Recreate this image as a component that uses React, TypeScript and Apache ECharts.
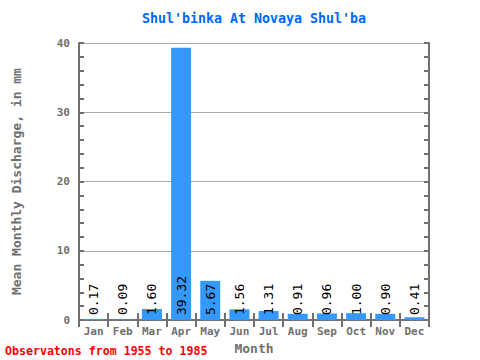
import React, { useEffect, useRef } from "react";
import * as echarts from "echarts";

const months = ["Jan", "Feb", "Mar", "Apr", "May", "Jun", "Jul", "Aug", "Sep", "Oct", "Nov", "Dec"];
const discharge = [0.17, 0.09, 1.6, 39.32, 5.67, 1.56, 1.31, 0.91, 0.96, 1.0, 0.9, 0.41];
const titleText = "Shul'binka At Novaya Shul'ba";
const yName = "Mean Monthly Discharge, in mm";
const xName = "Month";
const note = "Observatons from 1955 to 1985";

const FONT = "'DejaVu Sans Mono', monospace";
const AXIS = "#707070";

export default function App() {
  const ref = useRef<HTMLDivElement>(null);
  useEffect(() => {
    const chart = echarts.init(ref.current!, null, { renderer: "svg" });
    const yCommon = {
      type: "value" as const,
      min: 0,
      max: 40,
      interval: 10,
      axisLine: { show: true, lineStyle: { color: AXIS, width: 2 } },
      axisTick: { show: true, inside: true, length: 5, lineStyle: { color: AXIS, width: 2 } },
      minorTick: { show: true, splitNumber: 5, length: 5, lineStyle: { color: AXIS, width: 2 } },
    };
    const xCommon = {
      type: "category" as const,
      data: months,
      axisLine: { show: true, lineStyle: { color: AXIS, width: 2 } },
      axisTick: { show: true, inside: true, interval: 0, length: 7, alignWithLabel: false, lineStyle: { color: AXIS, width: 2 } },
    };
    chart.setOption({
      animation: false,
      graphic: [
        {
          type: "text",
          x: 254,
          y: 18,
          style: {
            text: titleText,
            fontFamily: FONT,
            fontSize: 13.3,
            fontWeight: "bold",
            fill: "#0066ff",
            align: "center",
            verticalAlign: "middle",
          },
        },
        {
          type: "text",
          left: 5,
          top: 345,
          style: { text: note, fontFamily: FONT, fontSize: 11.6, fontWeight: "bold", fill: "#ff0000" },
        },
      ],
      grid: { left: 79, right: 51, top: 43, bottom: 39 },
      xAxis: [
        {
          ...xCommon,
          position: "bottom",
          name: xName,
          nameLocation: "middle",
          nameGap: 21,
          nameTextStyle: { fontFamily: FONT, fontSize: 13, fontWeight: "bold", color: AXIS },
          axisLabel: { interval: 0, fontFamily: FONT, fontSize: 11, fontWeight: "bold", color: AXIS, margin: 6 },
        },
        {
          ...xCommon,
          position: "top",
          axisLabel: { show: false, interval: 0 },
        },
      ],
      yAxis: [
        {
          ...yCommon,
          position: "left",
          name: yName,
          nameLocation: "middle",
          nameGap: 56,
          nameTextStyle: { fontFamily: FONT, fontSize: 13, fontWeight: "bold", color: AXIS },
          axisLabel: { fontFamily: FONT, fontSize: 11, fontWeight: "bold", color: AXIS, margin: 9 },
          splitLine: { show: true, lineStyle: { color: "#aaaaaa", width: 1 } },
        },
        {
          ...yCommon,
          position: "right",
          axisLabel: { show: false },
          splitLine: { show: false },
        },
      ],
      series: [
        {
          type: "bar",
          data: discharge,
          barWidth: 20,
          itemStyle: { color: "#3399ff" },
          label: {
            show: true,
            position: "insideBottom",
            rotate: 90,
            align: "left",
            verticalAlign: "middle",
            distance: 5,
            formatter: (p: any) => p.value.toFixed(2),
            fontFamily: FONT,
            fontSize: 13,
            color: "#000",
          },
        },
      ],
    });
    return () => chart.dispose();
  }, []);
  return <div ref={ref} style={{ position: "absolute", left: 0, top: 0, width: 480, height: 360 }} />;
}
